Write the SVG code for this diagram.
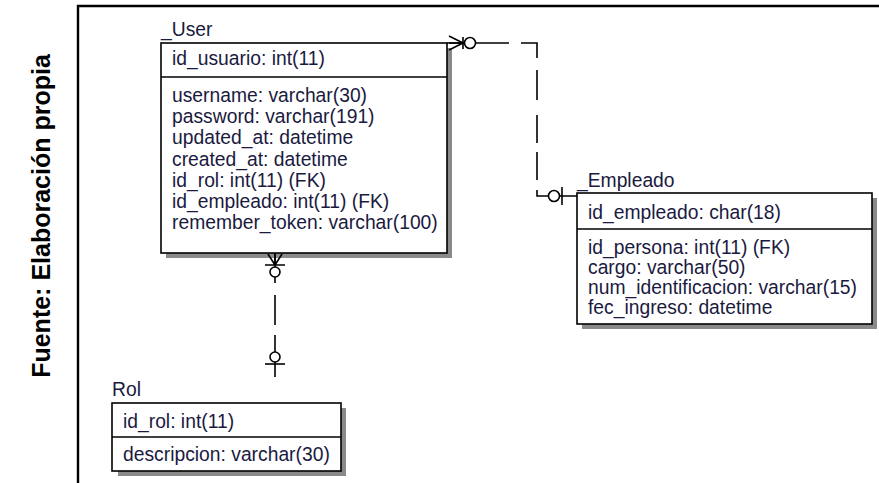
<svg xmlns="http://www.w3.org/2000/svg" width="879" height="483" viewBox="0 0 879 483">
<style>
.box{fill:#fff;stroke:#000;stroke-width:1.6}
.sep{stroke:#000;stroke-width:1.6}
.sh{fill:#8a8a8a}
.t{font-family:"Liberation Sans",Arial,sans-serif;font-size:19.3px;fill:#1a1a40}
.c{stroke:#000;stroke-width:1.6;fill:none}
.cw{stroke:#000;stroke-width:1.6;fill:#fff}
</style>
<rect width="879" height="483" fill="#fff"/>
<g id="frame">
<path d="M78,483 V6 H879" fill="none" stroke="#000" stroke-width="2.4"/>
</g>
<text id="caption" transform="translate(50,216) rotate(-90)" text-anchor="middle" font-family="'Liberation Sans',Arial,sans-serif" font-weight="bold" font-size="25" fill="#000">Fuente: Elaboración propia</text>

<g id="User">
<rect class="sh" x="447" y="48" width="5" height="210"/>
<rect class="sh" x="166" y="253" width="286" height="5"/>
<rect class="box" x="161" y="43" width="286" height="210"/>
<line class="sep" x1="161" y1="77" x2="447" y2="77"/>
<text class="t" x="161" y="36">_User</text>
<text class="t" x="172" y="65">id_usuario: int(11)</text>
<text class="t" x="172" y="102">username: varchar(30)</text>
<text class="t" x="172" y="123">password: varchar(191)</text>
<text class="t" x="172" y="144">updated_at: datetime</text>
<text class="t" x="172" y="166">created_at: datetime</text>
<text class="t" x="172" y="187">id_rol: int(11) (FK)</text>
<text class="t" x="172" y="208">id_empleado: int(11) (FK)</text>
<text class="t" x="172" y="229">remember_token: varchar(100)</text>
</g>

<g id="Empleado">
<rect class="sh" x="872" y="198" width="5" height="131"/>
<rect class="sh" x="582" y="324" width="295" height="5"/>
<rect class="box" x="577" y="193" width="295" height="131"/>
<line class="sep" x1="577" y1="229" x2="872" y2="229"/>
<text class="t" x="577" y="187">_Empleado</text>
<text class="t" x="588" y="219">id_empleado: char(18)</text>
<text class="t" x="588" y="254">id_persona: int(11) (FK)</text>
<text class="t" x="588" y="274">cargo: varchar(50)</text>
<text class="t" x="588" y="294">num_identificacion: varchar(15)</text>
<text class="t" x="588" y="314">fec_ingreso: datetime</text>
</g>

<g id="Rol">
<rect class="sh" x="341" y="408" width="5" height="68"/>
<rect class="sh" x="118" y="471" width="228" height="5"/>
<rect class="box" x="112" y="403" width="229" height="68"/>
<line class="sep" x1="112" y1="437" x2="341" y2="437"/>
<text class="t" x="112" y="396">Rol</text>
<text class="t" x="123" y="428">id_rol: int(11)</text>
<text class="t" x="123" y="461">descripcion: varchar(30)</text>
</g>

<g id="connectors">
<path class="c" d="M447,43 H509 M521,43 H537 V58 M537,70 V100 M537,115 V143 M537,152 V180 M537,190 V196 H577"/>
<path class="c" d="M463,43 L449,36 M463,43 L449,50 M463,43 H449 M463,37 V49"/>
<circle class="cw" cx="470" cy="43" r="5.5"/>
<circle class="cw" cx="554" cy="196" r="5.5"/>
<line class="c" x1="562" y1="187" x2="562" y2="205"/>
<path class="c" d="M275,253 V283 M275,295 V325 M275,335 V377"/>
<path class="c" d="M275,265 L268,254 M275,265 L282,254 M275,265 V254 M265,265 H285"/>
<circle class="cw" cx="275" cy="272" r="5"/>
<circle class="cw" cx="275" cy="357" r="5"/>
<line class="c" x1="265" y1="364" x2="285" y2="364"/>
</g>
</svg>
